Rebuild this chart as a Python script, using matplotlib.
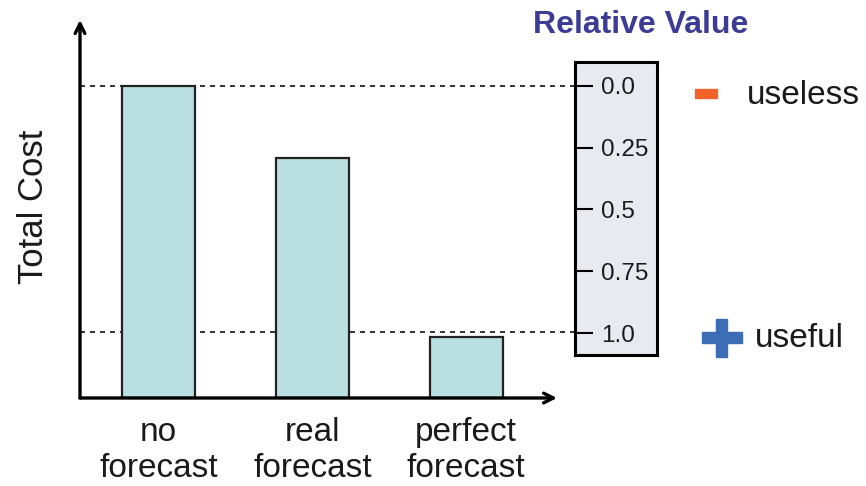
import matplotlib.pyplot as plt
from matplotlib.patches import Rectangle

plt.rcParams['font.family'] = ['Liberation Sans', 'DejaVu Sans']

# data
categories = ['no\nforecast', 'real\nforecast', 'perfect\nforecast']
total_cost = [1.0, 0.77, 0.195]
ref_levels = [1.0, 0.21]          # cost of "no forecast" and of the "useful" limit
rel_ticks = [0.0, 0.25, 0.5, 0.75, 1.0]
rel_labels = ['0.0', '0.25', '0.5', '0.75', '1.0']

W, H = 866, 486
fig = plt.figure(figsize=(W / 100, H / 100), dpi=100)

def px(x0, y0, x1, y1):
    # pixel box -> figure fraction
    return [x0 / W, 1 - y1 / H, (x1 - x0) / W, (y1 - y0) / H]

# main axes
ax = fig.add_axes(px(80, 20, 557, 398))
ax.set_xlim(-0.51, 2.59)
ax.set_ylim(0, 1.2115)
for s in ax.spines.values():
    s.set_visible(False)

ax.bar(range(3), total_cost, width=0.474, color='#BADFE1',
       edgecolor='#222222', linewidth=1.6, zorder=3)
for lv in ref_levels:
    ax.plot([-0.51, 2.71], [lv, lv], ls=(0, (3, 3)), color='#111111',
            lw=1.2, zorder=2, clip_on=False)

ax.annotate('', xy=(0, 1), xytext=(0, 0), xycoords='axes fraction',
            arrowprops=dict(arrowstyle='->,head_length=0.7,head_width=0.35',
                            lw=2.4, color='black', shrinkA=0, shrinkB=0))
ax.annotate('', xy=(1, 0), xytext=(0, 0), xycoords='axes fraction',
            arrowprops=dict(arrowstyle='->,head_length=0.7,head_width=0.35',
                            lw=2.4, color='black', shrinkA=0, shrinkB=0))

ax.set_xticks(range(3))
ax.set_xticklabels(categories, fontsize=24, color='#1a1a1a', linespacing=1.18)
ax.tick_params(axis='x', length=0, pad=14)
ax.set_yticks([])
ax.set_ylabel('Total Cost', fontsize=25, color='#1a1a1a')
ax.yaxis.set_label_coords(-0.062, 0.505)

# relative value box
ax2 = fig.add_axes(px(575, 62, 657, 355))
ax2.set_facecolor('#E7EBF1')
ax2.set_ylim(1.089, -0.097)
ax2.set_xticks([])
ax2.set_yticks(rel_ticks)
ax2.set_yticklabels(rel_labels, fontsize=17.5, color='#1a1a1a')
ax2.tick_params(axis='y', direction='in', length=13, width=1.5, pad=-19)
for lab in ax2.get_yticklabels():
    lab.set_horizontalalignment('left')
for s in ax2.spines.values():
    s.set_linewidth(2.2)

fig.text(641 / W, 1 - 25 / H, 'Relative Value', fontsize=23, fontweight='bold',
         color='#3C3C96', ha='center', va='center')
fig.text(747 / W, 1 - 95 / H, 'useless', fontsize=24, color='#1a1a1a',
         ha='left', va='center')
fig.text(755 / W, 1 - 338 / H, 'useful', fontsize=24, color='#1a1a1a',
         ha='left', va='center')

# minus / plus symbols
fig.add_artist(Rectangle((695 / W, 1 - 98 / H), 22 / W, 9 / H,
                         transform=fig.transFigure, color='#F0622A'))
fig.add_artist(Rectangle((702 / W, 1 - 343 / H), 40 / W, 11 / H,
                         transform=fig.transFigure, color='#3D6DB5'))
fig.add_artist(Rectangle((716 / W, 1 - 357 / H), 11 / W, 38 / H,
                         transform=fig.transFigure, color='#3D6DB5'))

fig.savefig('out.png', dpi=100)
